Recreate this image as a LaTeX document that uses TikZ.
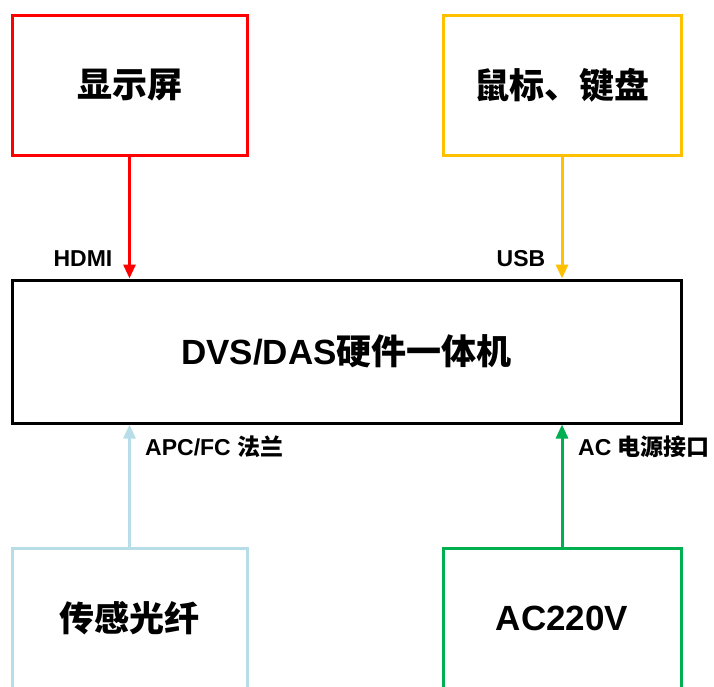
\documentclass[tikz,border=0pt]{standalone}
\usepackage{fontspec}
\setmainfont{Liberation Sans}
\newfontfamily\cjk{Noto Sans CJK SC}
\usetikzlibrary{arrows.meta}
\definecolor{cred}{HTML}{FF0000}
\definecolor{cyel}{HTML}{FFC000}
\definecolor{cblue}{HTML}{B7DEE8}
\definecolor{cgreen}{HTML}{00B050}
\begin{document}
\begin{tikzpicture}[x=1pt,y=-1pt,
  box/.style={draw, line width=3pt, inner sep=0pt, minimum height=140pt, font=\fontsize{35}{40}\selectfont\bfseries},
  lbl/.style={font=\fontsize{23}{27}\selectfont\bfseries, inner sep=0pt},
  conn/.style={line width=3pt, -{Triangle[length=14pt,width=12pt]}}
]
\useasboundingbox (0,0) rectangle (714,686);
\node[box, draw=cred, minimum width=235pt] (disp) at (129.5,85) {\cjk\bfseries 显示屏};
\node[box, draw=cyel, minimum width=238pt] (kbd) at (562,85) {\cjk\bfseries 鼠标、键盘};
\node[box, draw=black, minimum width=669pt, minimum height=143pt] (main) at (346.5,351.5) {DVS/DAS{\cjk\bfseries 硬件一体机}};
\node[box, draw=cblue, minimum width=235pt] (fiber) at (129.5,618.5) {\cjk\bfseries 传感光纤};
\node[box, draw=cgreen, minimum width=238pt] (ac) at (562,618.5) {AC220V};
\draw[conn, cred] (disp.south) -- (disp.south |- main.north);
\draw[conn, cyel] (kbd.south) -- (kbd.south |- main.north);
\draw[conn, cblue] (fiber.north) -- (fiber.north |- main.south);
\draw[conn, cgreen] (ac.north) -- (ac.north |- main.south);
\node[lbl] (hdmi) at (83,259) {HDMI};
\node[lbl] (usb) at (521,259) {USB};
\node[lbl, anchor=west] (apc) at (145,447) {APC/FC {\cjk\bfseries 法兰}};
\node[lbl, anchor=west] (acif) at (578,447) {AC {\cjk\bfseries 电源接口}};
\end{tikzpicture}
\end{document}
